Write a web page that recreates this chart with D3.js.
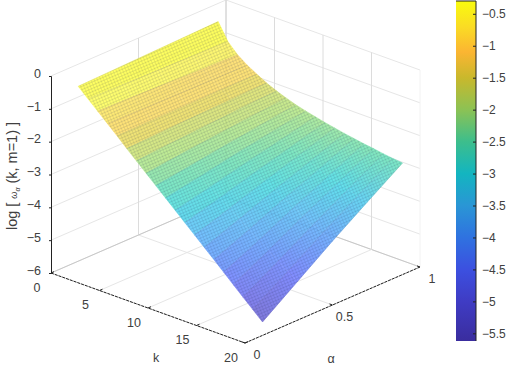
<!DOCTYPE html>
<html>
<head>
<meta charset="utf-8">
<script src="https://cdn.jsdelivr.net/npm/d3@7"></script>
<style>
  html, body { margin: 0; padding: 0; background: #fff; }
  svg { display: block; }
  text { font-family: "Liberation Sans", Arial, sans-serif; fill: #404040; }
</style>
</head>
<body>
<svg id="chart" width="506" height="366"></svg>
<script>
const kValues = [1, 2, 3, 4, 5, 6, 7, 8, 9, 10, 11, 12, 13, 14, 15, 16, 17, 18, 19, 20];
const alphaValues = [0.1, 0.3, 0.5, 0.7, 0.9];

// log values, one list per alpha
const zAlpha01 = [-0.44, -0.71, -0.98, -1.25, -1.52, -1.8, -2.07, -2.34, -2.61, -2.88, -3.15, -3.42, -3.69, -3.96, -4.23, -4.5, -4.78, -5.05, -5.32, -5.59];
const zAlpha03 = [-0.41, -0.74, -1.01, -1.27, -1.51, -1.76, -1.99, -2.22, -2.46, -2.68, -2.9, -3.12, -3.34, -3.56, -3.78, -4.0, -4.2, -4.42, -4.62, -4.82];
const zAlpha05 = [-0.38, -0.77, -1.05, -1.29, -1.51, -1.72, -1.92, -2.11, -2.3, -2.47, -2.64, -2.81, -2.97, -3.14, -3.3, -3.46, -3.61, -3.77, -3.91, -4.05];
const zAlpha07 = [-0.35, -0.8, -1.09, -1.31, -1.5, -1.69, -1.85, -2.0, -2.15, -2.28, -2.4, -2.52, -2.63, -2.74, -2.85, -2.95, -3.05, -3.15, -3.24, -3.32];
const zAlpha09 = [-0.32, -0.82, -1.12, -1.33, -1.5, -1.66, -1.79, -1.9, -2.0, -2.08, -2.15, -2.22, -2.28, -2.34, -2.39, -2.44, -2.48, -2.53, -2.57, -2.6];
const zColumns = [zAlpha01, zAlpha03, zAlpha05, zAlpha07, zAlpha09];

const kTicks = [0, 5, 10, 15, 20];
const alphaTicks = [0, 0.5, 1];
const alphaTickLabels = ['0', '0.5', '1'];
const zTicks = [0, -1, -2, -3, -4, -5, -6];
const barTicks = [-0.5, -1, -1.5, -2, -2.5, -3, -3.5, -4, -4.5, -5, -5.5];

const colorValues = [-0.3, -0.7, -1.1, -1.5, -2, -2.5, -3, -3.5, -4, -4.5, -5, -5.62];
const colorStops = ['#f9fb0e', '#fadc24', '#fbb532', '#c9b82c', '#8cc254', '#3dbe8c', '#13b5c0', '#2a96d5', '#2f72e0', '#3c50e0', '#3f3cc4', '#3a2d9e'];

const svg = d3.select('#chart');
const color = d3.scaleLinear().domain(colorValues).range(colorStops).interpolate(d3.interpolateRgb);
// the lit surface reads a little brighter than the colorbar
const surfaceColor = (z) => d3.rgb(color(z)).brighter(0.45).formatHex();

// oblique projection: each data axis adds its own screen offset
const kX = d3.scaleLinear().domain([0, 20]).range([0, 194]);
const kY = d3.scaleLinear().domain([0, 20]).range([0, 70]);
const aX = d3.scaleLinear().domain([0, 1]).range([0, 175]);
const aY = d3.scaleLinear().domain([0, 1]).range([0, -76]);
const zY = d3.scaleLinear().domain([-6, 0]).range([273, 76]);

function px(k, a) { return 51 + kX(k) + aX(a); }
function py(k, a, z) { return zY(z) + kY(k) + aY(a); }
function pt(k, a, z) { return [px(k, a), py(k, a, z)]; }
const lineGen = d3.line();

// walls and floor
const grid = svg.append('g').attr('fill', 'none').attr('stroke', '#e6e6e6').attr('stroke-width', 1);
function gridLine(a, b, col) {
  grid.append('path').attr('d', lineGen([a, b])).attr('stroke', col || null);
}
zTicks.forEach((z) => {
  gridLine(pt(0, 0, z), pt(0, 1, z));
  gridLine(pt(0, 1, z), pt(20, 1, z));
});
alphaTicks.forEach((a) => {
  if (a > 0) gridLine(pt(0, a, -6), pt(0, a, 0), a === 1 ? '#cccccc' : '#dcdcdc');
  gridLine(pt(0, a, -6), pt(20, a, -6), a === 1 ? '#c8c8c8' : null);
});
kTicks.forEach((k) => {
  gridLine(pt(k, 1, -6), pt(k, 1, 0), k === 20 ? '#f2f2f2' : '#dcdcdc');
  gridLine(pt(k, 0, -6), pt(k, 1, -6), k === 0 ? '#c8c8c8' : null);
});

// outline of the surface, used for the underlay and the fine mesh texture
const outline = [];
kValues.forEach((k, i) => outline.push(pt(k, alphaValues[0], zColumns[0][i])));
alphaValues.forEach((a, j) => outline.push(pt(20, a, zColumns[j][19])));
kValues.slice().reverse().forEach((k, i) => outline.push(pt(k, 0.9, zColumns[4][19 - i])));
alphaValues.slice().reverse().forEach((a, j) => outline.push(pt(1, a, zColumns[4 - j][0])));

// fades the grid behind the surface
svg.append('path')
  .attr('d', lineGen(outline) + 'Z')
  .attr('fill', '#fff')
  .attr('opacity', 0.6);

// surface
const defs = svg.append('defs');
const surface = svg.append('g').attr('opacity', 0.68);
d3.range(kValues.length - 1).forEach((i) => {
  d3.range(alphaValues.length - 1).forEach((j) => {
    const k0 = kValues[i], k1 = kValues[i + 1];
    const a0 = alphaValues[j], a1 = alphaValues[j + 1];
    const id = `cell-${i}-${j}`;
    const g0 = pt(k0, a0, zColumns[j][i]);
    const g1 = pt(k0, a1, zColumns[j + 1][i]);
    const grad = defs.append('linearGradient').attr('id', id)
      .attr('gradientUnits', 'userSpaceOnUse')
      .attr('x1', g0[0]).attr('y1', g0[1]).attr('x2', g1[0]).attr('y2', g1[1]);
    grad.append('stop').attr('offset', 0).attr('stop-color', surfaceColor(zColumns[j][i]));
    grad.append('stop').attr('offset', 1).attr('stop-color', surfaceColor(zColumns[j + 1][i]));
    const corners = [g0, g1, pt(k1, a1, zColumns[j + 1][i + 1]), pt(k1, a0, zColumns[j][i + 1])];
    surface.append('path')
      .attr('d', lineGen(corners) + 'Z')
      .attr('fill', `url(#${id})`)
      .attr('stroke', `url(#${id})`)
      .attr('stroke-width', 0.6);
  });
});

const mesh = defs.append('pattern').attr('id', 'mesh')
  .attr('patternUnits', 'userSpaceOnUse')
  .attr('width', 3).attr('height', 3)
  .attr('patternTransform', 'rotate(-23)');
mesh.append('rect').attr('width', 3).attr('height', 1).attr('fill', '#1a2a50').attr('opacity', 0.12);
mesh.append('rect').attr('x', 1).attr('width', 1).attr('height', 3).attr('fill', '#1a2a50').attr('opacity', 0.1);
svg.append('path')
  .attr('d', lineGen(outline) + 'Z')
  .attr('fill', 'url(#mesh)');

// lines along alpha at every k
const bands = svg.append('g').attr('fill', 'none').attr('stroke', '#30304a').attr('stroke-opacity', 0.09).attr('stroke-width', 1);
kValues.forEach((k, i) => {
  bands.append('path').attr('d', lineGen(alphaValues.map((a, j) => pt(k, a, zColumns[j][i]))));
});

// z axis
const zAxis = d3.axisLeft(zY).tickValues(zTicks).tickFormat(d3.format('d')).tickSize(2).tickPadding(8);
svg.append('g').attr('transform', 'translate(51,0)').call(zAxis)
  .call((g) => g.selectAll('.domain,line').attr('stroke', '#222'))
  .call((g) => g.selectAll('text').attr('fill', '#404040').attr('dy', '0.1em').style('font-size', '12.5px'));

// k and alpha axes on the floor
const floor = svg.append('g').attr('fill', 'none').attr('stroke', '#222').attr('stroke-width', 1);
floor.append('path').attr('d', lineGen([pt(0, 0, -6), pt(20, 0, -6)])).attr('stroke-dasharray', '3 1');
floor.append('path').attr('d', lineGen([pt(20, 0, -6), pt(20, 1, -6)])).attr('stroke-dasharray', '3 1');
kTicks.forEach((k) => {
  const p = pt(k, 0, -6);
  floor.append('path').attr('d', lineGen([p, [p[0] + 3, p[1] - 1.3]]));
});
alphaTicks.forEach((a) => {
  const p = pt(20, a, -6);
  floor.append('path').attr('d', lineGen([p, [p[0] - 3, p[1] - 1.1]]));
});

const labels = svg.append('g').style('font-size', '12.5px').attr('text-anchor', 'middle');
kTicks.forEach((k) => {
  const p = pt(k, 0, -6);
  labels.append('text').attr('x', p[0] - 14).attr('y', p[1] + 18.5).text(k);
});
alphaTicks.forEach((a, i) => {
  const p = pt(20, a, -6);
  labels.append('text').attr('x', p[0] + 12).attr('y', p[1] + 16).text(alphaTickLabels[i]);
});
labels.append('text').attr('x', 156).attr('y', 362).text('k');
labels.append('text').attr('x', 331).attr('y', 363).text('α');

// y label
const yLabel = svg.append('text')
  .attr('transform', 'translate(17,176) rotate(-90)')
  .attr('text-anchor', 'middle')
  .style('font-size', '14.5px');
yLabel.append('tspan').text('log [ ');
yLabel.append('tspan').style('font-size', '9px').style('font-style', 'italic').text('ω');
yLabel.append('tspan').style('font-size', '7px').style('font-style', 'italic').attr('dy', 3).text('α');
yLabel.append('tspan').attr('dy', -3).text(' (k, m=1) ]');

// colorbar
const barY = d3.scaleLinear().domain([-0.3, -5.62]).range([1, 341]);
const barGrad = defs.append('linearGradient').attr('id', 'bar')
  .attr('gradientUnits', 'userSpaceOnUse')
  .attr('x1', 0).attr('y1', barY(-0.3)).attr('x2', 0).attr('y2', barY(-5.62));
colorValues.forEach((v, i) => {
  barGrad.append('stop')
    .attr('offset', (barY(v) - barY(-0.3)) / (barY(-5.62) - barY(-0.3)))
    .attr('stop-color', colorStops[i]);
});
svg.append('rect').attr('x', 456).attr('y', 1).attr('width', 20).attr('height', 340).attr('fill', 'url(#bar)');
svg.append('path').attr('d', 'M456,1H476V341').attr('fill', 'none').attr('stroke', '#222');
const barAxis = d3.axisRight(barY).tickValues(barTicks).tickFormat(d3.format('')).tickSize(-3).tickPadding(6);
svg.append('g').attr('transform', 'translate(476,0)').call(barAxis)
  .call((g) => g.select('.domain').remove())
  .call((g) => g.selectAll('line').attr('stroke', '#222'))
  .call((g) => g.selectAll('text').attr('fill', '#404040').style('font-size', '12px'));
</script>
</body>
</html>
